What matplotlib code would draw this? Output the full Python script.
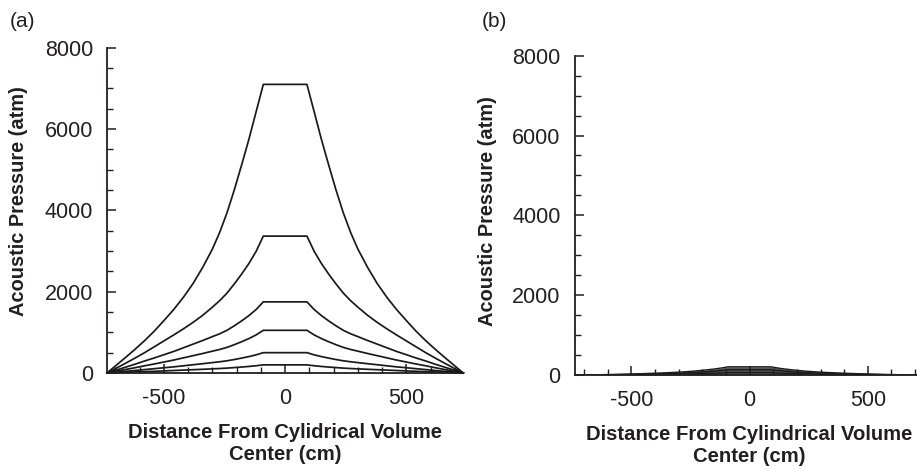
import numpy as np
import matplotlib
matplotlib.use("Agg")
import matplotlib.pyplot as plt
from matplotlib.ticker import MultipleLocator

plt.rcParams['font.family'] = ['Liberation Sans', 'DejaVu Sans']
plt.rcParams['axes.unicode_minus'] = False

# half profile: distance from the edge (-735 cm) in to the flat top (-90 cm)
dist_half = [-735, -700, -660, -620, -580, -540, -500, -460, -420, -380, -340,
             -300, -270, -240, -210, -180, -150, -120, -90]

# panel (a) pressures (atm) at dist_half
p_a1 = [0, 175, 375, 580, 795, 1030, 1290, 1560, 1860, 2200, 2600,
        3050, 3460, 3940, 4500, 5110, 5740, 6420, 7100]
p_a2 = [0, 108, 235, 365, 500, 645, 790, 935, 1085, 1245, 1420,
        1620, 1780, 1965, 2190, 2430, 2690, 2990, 3367]
p_a3 = [0, 65, 140, 215, 295, 370, 450, 530, 620, 710, 800,
        895, 965, 1050, 1160, 1280, 1410, 1560, 1750]
p_a4 = [0, 39, 84, 129, 177, 222, 270, 318, 372, 426, 480,
        537, 579, 630, 696, 768, 846, 936, 1050]
p_a5 = [0, 19, 40, 61, 84, 106, 129, 151, 177, 203, 229,
        256, 276, 300, 331, 366, 403, 446, 500]
p_a6 = [0, 7, 16, 25, 34, 42, 51, 61, 71, 81, 91,
        102, 110, 120, 133, 146, 161, 178, 200]

# panel (b) pressures (atm)
p_b1 = [0, 2, 5, 9, 14, 20, 26, 33, 41, 50, 60,
        72, 83, 96, 112, 130, 150, 175, 205]
p_b2 = [0, 1, 3, 5, 8, 11, 15, 20, 25, 31, 38,
        46, 53, 61, 71, 83, 96, 112, 130]
p_b3 = [0, 0, 1, 2, 3, 5, 7, 9, 11, 14, 17,
        21, 24, 28, 33, 39, 45, 52, 60]


def full(half):
    # the profile is symmetric about the centre
    return list(half) + list(half[::-1])


dist = list(dist_half) + [-d for d in dist_half[::-1]]

txt = '#231f20'
fig = plt.figure(figsize=(9.17, 4.69), dpi=100)
ax1 = fig.add_axes([0.1167, 0.2047, 0.3885, 0.6934])
ax2 = fig.add_axes([0.6265, 0.2004, 0.3818, 0.6808])


def style(ax, xlim, xlabel):
    ax.set_xlim(-xlim, xlim)
    ax.set_ylim(0, 8000)
    for s in ['top', 'right']:
        ax.spines[s].set_visible(False)
    for s in ['left', 'bottom']:
        ax.spines[s].set_linewidth(1.3)
        ax.spines[s].set_color(txt)
    ax.xaxis.set_major_locator(MultipleLocator(500))
    ax.xaxis.set_minor_locator(MultipleLocator(100))
    ax.yaxis.set_major_locator(MultipleLocator(2000))
    ax.yaxis.set_minor_locator(MultipleLocator(500))
    ax.tick_params(which='major', direction='in', length=6.5, width=1.1, color=txt,
                   labelsize=15.5, labelcolor=txt)
    ax.tick_params(which='minor', direction='in', length=4, width=1.0, color=txt)
    ax.tick_params(axis='x', which='major', pad=11)
    ax.tick_params(axis='y', which='major', pad=10)
    ax.set_xlabel(xlabel, fontsize=14.6, fontweight='bold', color=txt, labelpad=10,
                  linespacing=1.2)
    ax.set_ylabel('Acoustic Pressure (atm)', fontsize=14.4, fontweight='bold', color=txt)


style(ax1, 735, 'Distance From Cylidrical Volume\nCenter (cm)')
for p in [p_a1, p_a2, p_a3, p_a4, p_a5, p_a6]:
    ax1.plot(dist, full(p), color='#1a1a1a', lw=1.25, clip_on=False)
ax1.yaxis.set_label_coords(-0.222, 0.53)

style(ax2, 740, 'Distance From Cylindrical Volume\nCenter (cm)')
ax2.fill_between(dist, full(p_b1), 0, color='#555555', lw=0)
for p in [p_b1, p_b2, p_b3]:
    ax2.plot(dist, full(p), color='#1a1a1a', lw=1.0)
ax2.yaxis.set_label_coords(-0.222, 0.512)

fig.text(0.011, 0.975, '(a)', fontsize=15, color=txt, va='top', ha='left')
fig.text(0.525, 0.975, '(b)', fontsize=15, color=txt, va='top', ha='left')

fig.savefig('out.png', dpi=100)
